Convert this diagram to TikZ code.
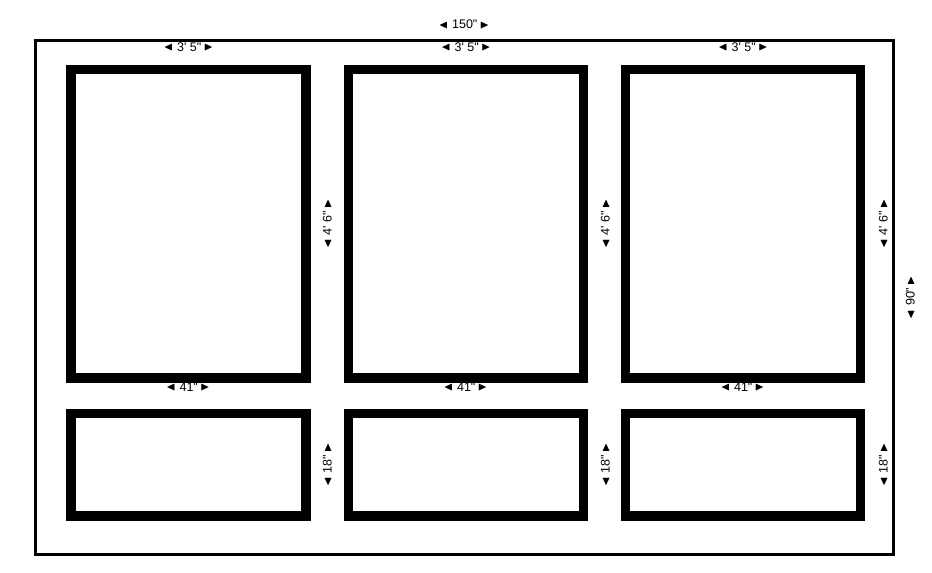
\documentclass[tikz,border=0pt]{standalone}
\usepackage{fontspec}
\usepackage{amssymb}
\newfontfamily\labfont[Ligatures=TeXOff]{Liberation Sans}
\newcommand{\triL}{\raisebox{0.4pt}{\scalebox{0.95}{$\blacktriangleleft$}}}
\newcommand{\triR}{\raisebox{0.4pt}{\scalebox{0.95}{$\blacktriangleright$}}}
\newcommand{\dimlab}[1]{\triL\hspace{4pt}#1\hspace{2.5pt}\triR}
\begin{document}
\begin{tikzpicture}[x=1pt,y=-1pt,
  lab/.style={font=\labfont\fontsize{12.5}{13}\selectfont, inner sep=0pt, text height=9pt, text depth=0pt},
  vlab/.style={lab, rotate=90},
  panel/.style={line width=9.5pt, draw=black},
  frame/.style={line width=3pt, draw=black}]
\useasboundingbox (0,0) rectangle (932,573);
\fill[white] (0,0) rectangle (932,573);
% outer wall
\draw[frame] (35.5,40.5) rectangle (893,554.5);
\node[lab] (total) at (464,24) {\dimlab{150"}};
\node[vlab] (height) at (910,297.5) {\dimlab{90"}};
% panels
\foreach \i/\x/\vx in {1/71/327,2/348.5/605,3/625.5/883}{
  \draw[panel] (\x,69.5) rectangle ++(235,308.5);
  \draw[panel] (\x,413.7) rectangle ++(235,102.3);
  \node[lab] (tw\i) at (\x+117.5,46.5) {\dimlab{3' 5"}};
  \node[lab] (bw\i) at (\x+117,386.5) {\dimlab{41"}};
  \node[vlab] (th\i) at (\vx,224) {\dimlab{4' 6"}};
  \node[vlab] (bh\i) at (\vx,465) {\dimlab{18"}};
}
\end{tikzpicture}
\end{document}
